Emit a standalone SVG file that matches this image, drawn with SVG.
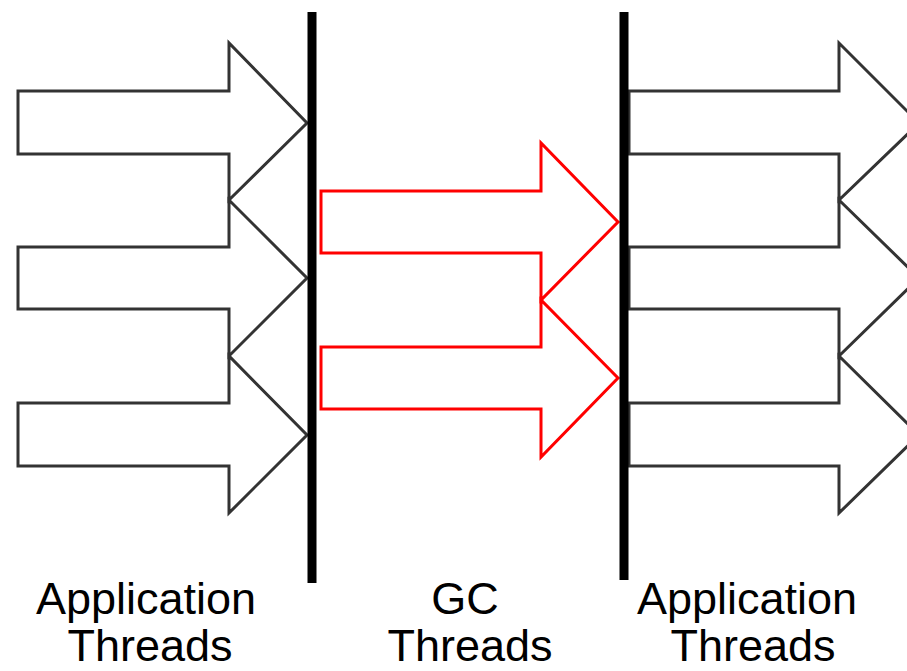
<svg xmlns="http://www.w3.org/2000/svg" width="907" height="671" viewBox="0 0 907 671">
<style>
.app{fill:#fff;stroke:#333;stroke-width:3;stroke-linejoin:miter}
.gc{fill:#fff;stroke:#ff0000;stroke-width:3;stroke-linejoin:miter}
.bar{stroke:#000;stroke-width:9;stroke-linecap:butt}
.lbl{font-family:"Liberation Sans",Arial,sans-serif;font-size:45px;fill:#000;text-anchor:middle}
</style>
<rect width="907" height="671" fill="#fff"/>
<g id="left-app-threads">
<polygon class="app" points="18,91 229,91 229,43 307,123 229,200 229,154 18,154"/>
<polygon class="app" points="18,247 229,247 229,200 307,278 229,356 229,309 18,309"/>
<polygon class="app" points="18,403 229,403 229,356 307,435 229,513 229,466 18,466"/>
</g>
<g id="gc-threads">
<polygon class="gc" points="321,191 541,191 541,143 618,222 541,300 541,253 321,253"/>
<polygon class="gc" points="321,347 541,347 541,300 618,378 541,457 541,409 321,409"/>
</g>
<g id="right-app-threads">
<polygon class="app" points="629,91 839,91 839,43 919,123 839,200 839,154 629,154"/>
<polygon class="app" points="629,247 839,247 839,200 919,278 839,356 839,309 629,309"/>
<polygon class="app" points="629,403 839,403 839,356 919,435 839,513 839,466 629,466"/>
</g>
<g id="barriers">
<line class="bar" x1="312" y1="12" x2="312" y2="583"/>
<line class="bar" x1="624" y1="12" x2="624" y2="580"/>
</g>
<g id="labels">
<text class="lbl" x="146" y="614">Application</text>
<text class="lbl" x="150" y="661">Threads</text>
<text class="lbl" x="465" y="614">GC</text>
<text class="lbl" x="470" y="661">Threads</text>
<text class="lbl" x="747" y="614">Application</text>
<text class="lbl" x="753" y="661">Threads</text>
</g>
</svg>
